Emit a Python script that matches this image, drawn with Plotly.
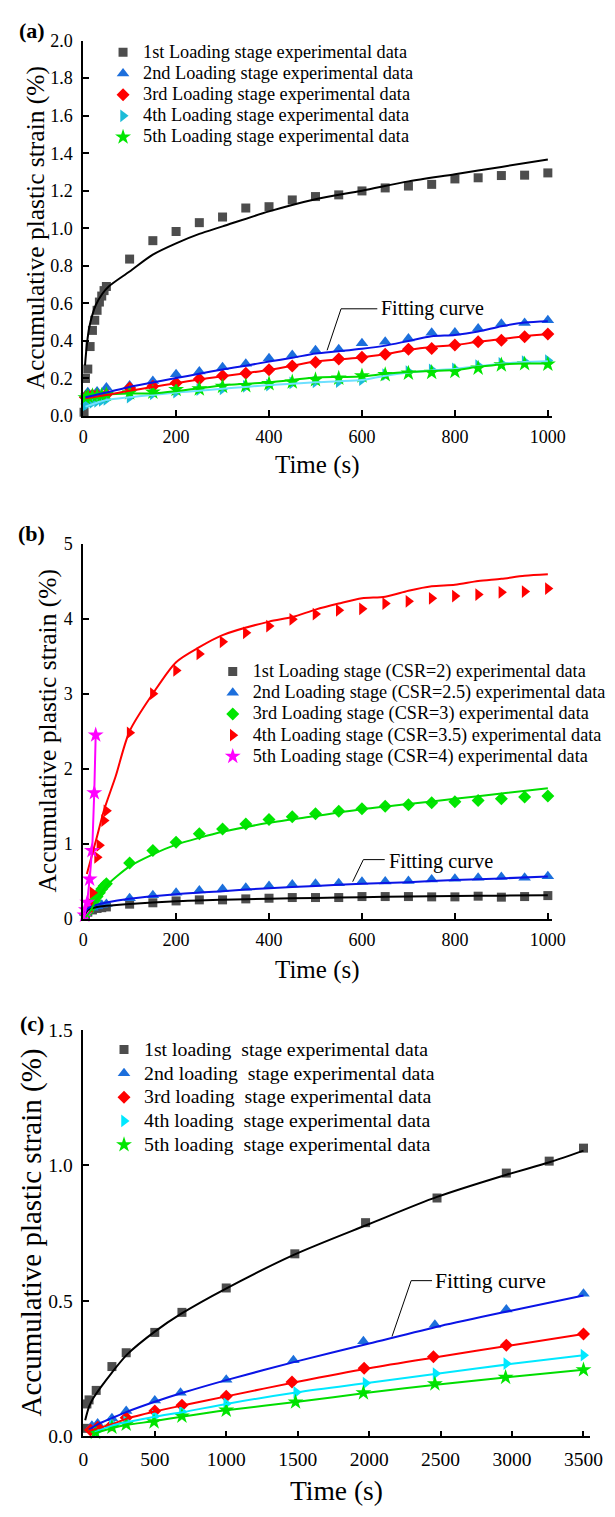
import plotly.graph_objects as go

FONT = "Liberation Serif"
W, H = 615, 1517

# ---------------- panel (a) ----------------
a1_t = [2, 5, 10, 15, 20, 25, 30, 35, 40, 45, 50, 100, 150, 200, 250, 300, 350, 400, 450, 500,
        550, 600, 650, 700, 750, 800, 850, 900, 950, 1000]
a1_v = [0.02, 0.20, 0.25, 0.37, 0.456, 0.51, 0.563, 0.607, 0.639, 0.668, 0.69, 0.836, 0.934, 0.983,
        1.03, 1.06, 1.108, 1.115, 1.151, 1.169, 1.178, 1.199, 1.215, 1.225, 1.234, 1.263, 1.269,
        1.281, 1.283, 1.295]
a_t = [100, 150, 200, 250, 300, 350, 400, 450, 500, 550, 600, 650, 700, 750, 800, 850, 900, 950, 1000]
a2_t = [5, 10, 30, 50] + a_t
a2_v = [0.11, 0.127, 0.13, 0.152, 0.162, 0.186, 0.222, 0.237, 0.26, 0.278, 0.308, 0.325, 0.35, 0.355,
        0.387, 0.395, 0.413, 0.443, 0.445, 0.466, 0.492, 0.496, 0.51]
a3_t = [5, 10, 20, 30, 50] + a_t
a3_v = [0.10, 0.105, 0.11, 0.11, 0.115, 0.149, 0.158, 0.176, 0.197, 0.214, 0.228, 0.246, 0.267, 0.286,
        0.304, 0.313, 0.329, 0.355, 0.36, 0.378, 0.395, 0.404, 0.422, 0.437]
a4_t = [5, 10, 20, 30, 40, 50] + a_t
a4_v = [0.058, 0.065, 0.072, 0.078, 0.083, 0.088, 0.10, 0.118, 0.127, 0.141, 0.144, 0.158, 0.165,
        0.176, 0.181, 0.183, 0.193, 0.22, 0.237, 0.246, 0.251, 0.269, 0.281, 0.29, 0.295]
a5_t = [5, 10, 20, 30, 40, 50] + a_t
a5_v = [0.097, 0.105, 0.108, 0.109, 0.11, 0.115, 0.123, 0.127, 0.141, 0.144, 0.158, 0.162, 0.172,
        0.181, 0.193, 0.202, 0.214, 0.22, 0.228, 0.232, 0.237, 0.255, 0.272, 0.278, 0.276]

fa1_t = [4, 8, 13, 20, 27, 41, 55, 100, 150, 200, 250, 300, 400, 500, 600, 700, 800, 900, 1000]
fa1_v = [0.27, 0.38, 0.47, 0.54, 0.59, 0.65, 0.69, 0.77, 0.86, 0.92, 0.97, 1.01, 1.09, 1.155, 1.20,
         1.25, 1.288, 1.327, 1.366]
fa_t = [5, 50, 100, 150, 200, 250, 300, 350, 400, 450, 500, 550, 600, 650, 700, 750, 800, 850, 900,
        950, 1000]
fa2_v = [0.10, 0.125, 0.155, 0.178, 0.202, 0.225, 0.248, 0.268, 0.29, 0.31, 0.333, 0.345, 0.358,
         0.375, 0.40, 0.425, 0.432, 0.45, 0.478, 0.498, 0.505]
fa3_v = [0.095, 0.112, 0.135, 0.155, 0.175, 0.195, 0.212, 0.228, 0.245, 0.268, 0.29, 0.302, 0.312,
         0.33, 0.352, 0.368, 0.378, 0.395, 0.41, 0.425, 0.435]
fa4_v = [0.05, 0.085, 0.10, 0.112, 0.125, 0.135, 0.145, 0.155, 0.165, 0.172, 0.18, 0.185, 0.192,
         0.215, 0.232, 0.243, 0.25, 0.265, 0.278, 0.288, 0.292]
fa5_v = [0.10, 0.115, 0.12, 0.12, 0.132, 0.148, 0.163, 0.172, 0.18, 0.192, 0.205, 0.208, 0.21,
         0.225, 0.235, 0.24, 0.245, 0.262, 0.275, 0.28, 0.28]

# ---------------- panel (b) ----------------
b_t = a_t
b1_t = [5, 10, 20, 30, 40, 50] + b_t
b1_v = [0.05, 0.09, 0.12, 0.14, 0.15, 0.16, 0.197, 0.215, 0.24, 0.254, 0.254, 0.267, 0.276, 0.285,
        0.285, 0.285, 0.298, 0.298, 0.298, 0.294, 0.294, 0.303, 0.29, 0.298, 0.311]
b2_t = [5, 10, 20, 30, 40, 50] + b_t
b2_v = [0.08, 0.12, 0.15, 0.17, 0.19, 0.20, 0.276, 0.316, 0.35, 0.38, 0.40, 0.417, 0.44, 0.46, 0.47,
        0.474, 0.496, 0.50, 0.504, 0.526, 0.535, 0.548, 0.56, 0.548, 0.57]
b3_t = [5, 10, 15, 20, 25, 30, 35, 40, 45, 50] + b_t
b3_v = [0.06, 0.10, 0.15, 0.20, 0.25, 0.30, 0.35, 0.40, 0.44, 0.47, 0.746, 0.912, 1.02, 1.136, 1.197,
        1.263, 1.325, 1.36, 1.40, 1.434, 1.469, 1.50, 1.52, 1.548, 1.561, 1.579, 1.60, 1.623, 1.636]
b4_t = [10, 15, 20, 30, 35, 45, 50, 100, 150] + b_t[2:]
b4_v = [0.10, 0.20, 0.35, 0.82, 0.98, 1.31, 1.44, 2.48, 3.00, 3.31, 3.53, 3.69, 3.81, 3.90, 3.99,
        4.06, 4.11, 4.13, 4.20, 4.23, 4.27, 4.30, 4.32, 4.35, 4.36, 4.40]
b5_t = [3, 6, 9, 14, 19, 24, 27]
b5_v = [0.05, 0.12, 0.22, 0.53, 0.91, 1.68, 2.45]

fb1_t = [3, 10, 30, 50, 100, 200, 300, 400, 500, 600, 700, 800, 900, 1000]
fb1_v = [0.05, 0.12, 0.16, 0.175, 0.20, 0.235, 0.255, 0.27, 0.28, 0.29, 0.298, 0.305, 0.31, 0.315]
fb2_t = [3, 10, 30, 50, 100, 200, 300, 400, 500, 600, 700, 800, 900, 1000]
fb2_v = [0.08, 0.14, 0.19, 0.22, 0.27, 0.33, 0.37, 0.41, 0.44, 0.47, 0.49, 0.52, 0.54, 0.565]
fb3_t = [5, 15, 25, 35, 50, 100, 150, 200, 250, 300, 400, 500, 600, 700, 800, 900, 1000]
fb3_v = [0.02, 0.10, 0.22, 0.31, 0.44, 0.70, 0.86, 0.99, 1.08, 1.16, 1.28, 1.37, 1.46, 1.53, 1.60,
         1.67, 1.74]
fb4_t = [8, 30, 45, 70, 100, 150, 200, 250, 300, 400, 450, 500, 550, 600, 650, 700, 750, 800, 850,
         900, 950, 1000]
fb4_v = [0.60, 1.10, 1.45, 1.90, 2.50, 3.00, 3.42, 3.62, 3.78, 3.96, 4.02, 4.12, 4.20, 4.27, 4.29,
         4.37, 4.43, 4.45, 4.50, 4.53, 4.57, 4.59]
fb5_t = [3, 10, 15, 20, 24, 27]
fb5_v = [0.03, 0.30, 0.60, 1.00, 1.70, 2.45]

# ---------------- panel (c) ----------------
c1_t = [20, 25, 40, 90, 200, 300, 500, 690, 1000, 1480, 1975, 2475, 2960, 3260, 3500]
c1_v = [0.03, 0.12, 0.135, 0.17, 0.258, 0.309, 0.384, 0.458, 0.548, 0.674, 0.789, 0.88, 0.972,
        1.016, 1.064]
c2_t = [60, 100, 200, 300, 500, 680, 1000, 1470, 1960, 2460, 2960, 3500]
c2_v = [0.04, 0.048, 0.067, 0.094, 0.133, 0.161, 0.209, 0.281, 0.351, 0.412, 0.469, 0.527]
c3_t = [50, 100, 200, 300, 500, 690, 1000, 1460, 1965, 2450, 2960, 3500]
c3_v = [0.024, 0.034, 0.042, 0.069, 0.094, 0.115, 0.148, 0.201, 0.252, 0.294, 0.337, 0.378]
c4_t = [90, 200, 300, 500, 690, 1000, 1490, 1975, 2465, 2960, 3500]
c4_v = [0.018, 0.048, 0.054, 0.075, 0.091, 0.121, 0.163, 0.197, 0.232, 0.269, 0.30]
c5_t = [85, 200, 300, 495, 690, 1000, 1485, 1960, 2460, 2955, 3500]
c5_v = [0.015, 0.034, 0.045, 0.054, 0.075, 0.097, 0.127, 0.161, 0.194, 0.218, 0.246]

fc1_t = [13, 40, 67, 120, 200, 307, 500, 688, 995, 1480, 2000, 2475, 2961, 3262, 3500]
fc1_v = [0.06, 0.11, 0.139, 0.18, 0.236, 0.303, 0.387, 0.454, 0.545, 0.672, 0.784, 0.884, 0.966,
         1.012, 1.055]
fc_t = [40, 100, 200, 300, 500, 700, 1000, 1500, 2000, 2500, 3000, 3500]
fc2_v = [0.025, 0.045, 0.068, 0.09, 0.128, 0.162, 0.208, 0.278, 0.343, 0.408, 0.465, 0.52]
fc3_v = [0.02, 0.03, 0.045, 0.065, 0.092, 0.115, 0.148, 0.202, 0.252, 0.295, 0.337, 0.378]
fc45_t = [80, 200, 300, 500, 700, 1000, 1500, 2000, 2500, 3000, 3500]
fc4_v = [0.015, 0.04, 0.052, 0.073, 0.09, 0.12, 0.163, 0.198, 0.233, 0.268, 0.30]
fc5_v = [0.012, 0.03, 0.042, 0.057, 0.074, 0.097, 0.128, 0.162, 0.193, 0.22, 0.246]

names_a = ["1st Loading stage experimental data", "2nd Loading stage experimental data",
           "3rd Loading stage experimental data", "4th Loading stage experimental data",
           "5th Loading stage experimental data"]
names_b = ["1st Loading stage (CSR=2) experimental data", "2nd Loading stage (CSR=2.5) experimental data",
           "3rd Loading stage (CSR=3) experimental data", "4th Loading stage (CSR=3.5) experimental data",
           "5th Loading stage (CSR=4) experimental data"]
names_c = ["1st loading  stage experimental data", "2nd loading  stage experimental data",
           "3rd loading  stage experimental data", "4th loading  stage experimental data",
           "5th loading  stage experimental data"]

GRAY, BLUE_M, BLUE_L, RED = "#4d4d4d", "#1c6fdc", "#0a14e6", "#ff0000"
GREEN_M, GREEN_L, MAG = "#00e600", "#00dd00", "#ff00ff"

SYM = [("square", 9), ("triangle-up", 11), ("diamond", 10), ("triangle-right", 11), ("star", 12)]

fig = go.Figure()


def add_markers(xa, ya, legend, t, v, name, sym, color, txt_size):
    s, sz = sym
    fig.add_trace(go.Scatter(
        x=t, y=v, mode="markers", xaxis=xa, yaxis=ya, legend=legend, cliponaxis=False,
        name=f'<span style="font-size:{txt_size}px">{name}</span>',
        marker=dict(symbol=s, size=sz, color=color, line=dict(width=0))))


def add_line(xa, ya, t, v, color, shape="spline"):
    fig.add_trace(go.Scatter(
        x=t, y=v, mode="lines", xaxis=xa, yaxis=ya, showlegend=False, cliponaxis=False,
        line=dict(color=color, width=2, shape=shape, smoothing=0.8)))


# panel (a)
cols_a = [GRAY, BLUE_M, RED, "#1cbcd8", GREEN_M]
data_a = [(a1_t, a1_v), (a2_t, a2_v), (a3_t, a3_v), (a4_t, a4_v), (a5_t, a5_v)]
for i, (t, v) in enumerate(data_a):
    add_markers("x", "y", "legend", t, v, names_a[i], SYM[i], cols_a[i], 18.3)
add_line("x", "y", fa1_t, fa1_v, "black")
add_line("x", "y", fa_t, fa4_v, "#6ee0ff")
add_line("x", "y", fa_t, fa5_v, GREEN_L)
add_line("x", "y", fa_t, fa3_v, RED)
add_line("x", "y", fa_t, fa2_v, BLUE_L)

# panel (b)
cols_b = [GRAY, BLUE_M, GREEN_M, RED, MAG]
data_b = [(b1_t, b1_v), (b2_t, b2_v), (b3_t, b3_v), (b4_t, b4_v), (b5_t, b5_v)]
for i, (t, v) in enumerate(data_b):
    add_markers("x2", "y2", "legend2", t, v, names_b[i], SYM[i], cols_b[i], 18.2)
add_line("x2", "y2", fb1_t, fb1_v, "black")
add_line("x2", "y2", fb2_t, fb2_v, BLUE_L)
add_line("x2", "y2", fb3_t, fb3_v, GREEN_L)
add_line("x2", "y2", fb4_t, fb4_v, RED)
add_line("x2", "y2", fb5_t, fb5_v, MAG, shape="linear")

# panel (c)
cols_c = [GRAY, BLUE_M, RED, "#00e8ff", GREEN_M]
data_c = [(c1_t, c1_v), (c2_t, c2_v), (c3_t, c3_v), (c4_t, c4_v), (c5_t, c5_v)]
for i, (t, v) in enumerate(data_c):
    add_markers("x3", "y3", "legend3", t, v, names_c[i], SYM[i], cols_c[i], 19.8)
add_line("x3", "y3", fc1_t, fc1_v, "black")
add_line("x3", "y3", fc_t, fc2_v, BLUE_L)
add_line("x3", "y3", fc_t, fc3_v, RED)
add_line("x3", "y3", fc45_t, fc4_v, "#00e8ff")
add_line("x3", "y3", fc45_t, fc5_v, GREEN_L)


def py(p):
    return 1 - p / H


def px(p):
    return p / W


def axis(size, **kw):
    d = dict(showline=True, linecolor="black", linewidth=1.5, ticks="inside", ticklen=6,
             tickwidth=1.5, tickcolor="black", showgrid=False, zeroline=False, mirror=False,
             tickfont=dict(family=FONT, size=size, color="black"))
    d.update(kw)
    return d


fig.update_layout(
    width=W, height=H, margin=dict(l=0, r=0, t=0, b=0),
    paper_bgcolor="white", plot_bgcolor="white",
    font=dict(family=FONT, color="black"),
    xaxis=axis(18, domain=[px(80.5), px(564)], range=[0, 1010], tick0=0, dtick=200, anchor="y",
               ticklabelstandoff=4),
    yaxis=axis(18, domain=[py(411.7), py(31)], range=[0, 2.0], tick0=0, dtick=0.2,
               tickformat=".1f", anchor="x", ticklabelstandoff=5),
    xaxis2=axis(18, domain=[px(80.5), px(564)], range=[0, 1010], tick0=0, dtick=200, anchor="y2",
                ticklabelstandoff=4),
    yaxis2=axis(18, domain=[py(921.7), py(541)], range=[0, 5], tick0=0, dtick=1, anchor="x2",
                ticklabelstandoff=5),
    xaxis3=axis(19.5, domain=[px(80.7), px(603)], range=[0, 3548], tick0=0, dtick=500,
                anchor="y3", ticklabelstandoff=4),
    yaxis3=axis(19.5, domain=[py(1446.5), py(1034.3)], range=[0, 1.5], tick0=0, dtick=0.5,
                tickformat=".1f", anchor="x3", ticklabelstandoff=5),
)

leg = dict(bgcolor="rgba(0,0,0,0)", borderwidth=0, xanchor="left", yanchor="top",
           itemclick=False, traceorder="normal")
fig.update_layout(
    legend=dict(leg, x=px(101), y=py(27), font=dict(family=FONT, size=14, color="black")),
    legend2=dict(leg, x=px(214), y=py(655), font=dict(family=FONT, size=14, color="black")),
    legend3=dict(leg, x=px(102), y=py(1037), font=dict(family=FONT, size=16, color="black")),
)

ann = []
# panel letters
for lab, yc in [("(a)", 21), ("(b)", 531), ("(c)", 1028)]:
    ann.append(dict(text=f"<b>{lab}</b>", x=px(27.5), y=py(yc), xref="paper", yref="paper",
                    showarrow=False, xanchor="center", yanchor="middle",
                    font=dict(family=FONT, size=22, color="black")))
# axis titles
for xc, yc, size in [(322, 461.7, 25), (322, 973, 25), (342, 1501.7, 27.5)]:
    ann.append(dict(text="Time (s)", x=px(xc), y=py(yc), xref="paper", yref="paper",
                    showarrow=False, xanchor="center", yanchor="middle",
                    font=dict(family=FONT, size=size, color="black")))
for xc, yc, size in [(31.5, 221, 25.5), (44, 731, 25.5), (27.5, 1240, 29)]:
    ann.append(dict(text="Accumulative plastic strain (%)", x=px(xc), y=py(yc), xref="paper",
                    yref="paper", showarrow=False, textangle=-90, xanchor="center",
                    yanchor="middle", font=dict(family=FONT, size=size, color="black")))
# "Fitting curve" labels
for xr, yr, tx, ty, size in [("x", "y", 636, 0.571, 20), ("x2", "y2", 653, 0.76, 20.3),
                             ("x3", "y3", 2446, 0.575, 21.6)]:
    ann.append(dict(text="Fitting curve", x=tx, y=ty, xref=xr, yref=yr, showarrow=False,
                    xanchor="left", yanchor="middle",
                    font=dict(family=FONT, size=size, color="black")))
fig.update_layout(annotations=ann)

# leader lines for the "Fitting curve" labels
shapes = []
for xr, yr, pts in [("x", "y", [(525, 0.35), (555, 0.571), (633, 0.571)]),
                    ("x2", "y2", [(580, 0.496), (603, 0.79), (649, 0.79)]),
                    ("x3", "y3", [(2160, 0.369), (2294, 0.575), (2440, 0.575)])]:
    path = "M {} {} L {} {} L {} {}".format(*[c for p in pts for c in p])
    shapes.append(dict(type="path", path=path, xref=xr, yref=yr,
                       line=dict(color="black", width=1)))
fig.update_layout(shapes=shapes)

fig.write_html("out.html")
